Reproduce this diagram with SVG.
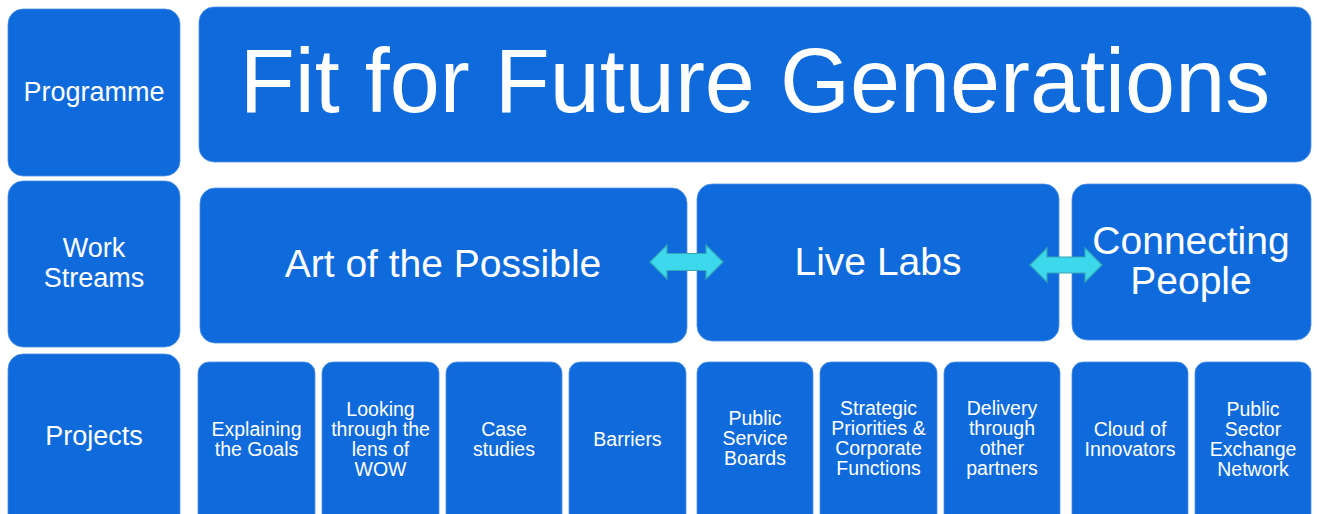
<svg xmlns="http://www.w3.org/2000/svg" width="1317" height="514" viewBox="0 0 1317 514">
  <style>
    .box { fill: #0f6bdc; stroke: #4f8fe4; stroke-width: 0.8; }
    .lbl { fill: #ffffff; font-family: "Liberation Sans", Arial, sans-serif; text-anchor: middle; }
    .row { font-size: 27px; }
    .title { font-size: 90px; }
    .ws { font-size: 39px; }
    .prj { font-size: 19.5px; }
    .arrow { fill: #3dd8eb; stroke: #34a7b6; stroke-width: 1.2; stroke-linejoin: miter; }
  </style>
  <rect width="1317" height="514" fill="#ffffff"/>

  <!-- row headings -->
  <g id="row-programme">
    <rect class="box" x="8" y="9" width="172" height="167" rx="15"/>
    <text class="lbl row" x="94" y="101">Programme</text>
  </g>
  <g id="row-workstreams">
    <rect class="box" x="8" y="181" width="172" height="166" rx="15"/>
    <text class="lbl row" x="94" y="257">Work</text>
    <text class="lbl row" x="94" y="287">Streams</text>
  </g>
  <g id="row-projects">
    <rect class="box" x="8" y="354" width="172" height="180" rx="15"/>
    <text class="lbl row" x="94" y="445">Projects</text>
  </g>

  <!-- programme -->
  <g id="programme">
    <rect class="box" x="199" y="7" width="1112" height="155" rx="15"/>
    <text class="lbl title" x="755" y="112">Fit for Future Generations</text>
  </g>

  <!-- work streams -->
  <g id="ws-art">
    <rect class="box" x="200" y="188" width="487" height="155" rx="15"/>
    <text class="lbl ws" x="443" y="277">Art of the Possible</text>
  </g>
  <g id="ws-livelabs">
    <rect class="box" x="697" y="184" width="362" height="157" rx="15"/>
    <text class="lbl ws" x="878" y="275">Live Labs</text>
  </g>
  <g id="ws-connecting">
    <rect class="box" x="1072" y="184" width="239" height="156" rx="15"/>
    <text class="lbl ws" x="1191" y="254">Connecting</text>
    <text class="lbl ws" x="1191" y="294">People</text>
  </g>

  <!-- projects -->
  <g id="p-explaining">
    <rect class="box" x="198" y="362" width="117" height="170" rx="11"/>
    <text class="lbl prj" x="256.5" y="436">Explaining</text>
    <text class="lbl prj" x="256.5" y="456">the Goals</text>
  </g>
  <g id="p-looking">
    <rect class="box" x="322" y="362" width="117" height="170" rx="11"/>
    <text class="lbl prj" x="380.5" y="416">Looking</text>
    <text class="lbl prj" x="380.5" y="436">through the</text>
    <text class="lbl prj" x="380.5" y="456">lens of</text>
    <text class="lbl prj" x="380.5" y="476">WOW</text>
  </g>
  <g id="p-case">
    <rect class="box" x="446" y="362" width="116" height="170" rx="11"/>
    <text class="lbl prj" x="504" y="436">Case</text>
    <text class="lbl prj" x="504" y="456">studies</text>
  </g>
  <g id="p-barriers">
    <rect class="box" x="569" y="362" width="117" height="170" rx="11"/>
    <text class="lbl prj" x="627.5" y="446">Barriers</text>
  </g>
  <g id="p-psb">
    <rect class="box" x="697" y="362" width="116" height="170" rx="11"/>
    <text class="lbl prj" x="755" y="425">Public</text>
    <text class="lbl prj" x="755" y="445">Service</text>
    <text class="lbl prj" x="755" y="465">Boards</text>
  </g>
  <g id="p-strategic">
    <rect class="box" x="820" y="362" width="117" height="170" rx="11"/>
    <text class="lbl prj" x="878.5" y="415">Strategic</text>
    <text class="lbl prj" x="878.5" y="435">Priorities &amp;</text>
    <text class="lbl prj" x="878.5" y="455">Corporate</text>
    <text class="lbl prj" x="878.5" y="475">Functions</text>
  </g>
  <g id="p-delivery">
    <rect class="box" x="944" y="362" width="116" height="170" rx="11"/>
    <text class="lbl prj" x="1002" y="415">Delivery</text>
    <text class="lbl prj" x="1002" y="435">through</text>
    <text class="lbl prj" x="1002" y="455">other</text>
    <text class="lbl prj" x="1002" y="475">partners</text>
  </g>
  <g id="p-cloud">
    <rect class="box" x="1072" y="362" width="116" height="170" rx="11"/>
    <text class="lbl prj" x="1130" y="436">Cloud of</text>
    <text class="lbl prj" x="1130" y="456">Innovators</text>
  </g>
  <g id="p-psen">
    <rect class="box" x="1195" y="362" width="116" height="170" rx="11"/>
    <text class="lbl prj" x="1253" y="416">Public</text>
    <text class="lbl prj" x="1253" y="436">Sector</text>
    <text class="lbl prj" x="1253" y="456">Exchange</text>
    <text class="lbl prj" x="1253" y="476">Network</text>
  </g>

  <!-- two-way links between work streams -->
  <g id="connectors">
    <path class="arrow" d="M650,262 L667,245 L667,253.5 L706,253.5 L706,245 L723,262 L706,279 L706,270.5 L667,270.5 L667,279 Z"/>
    <path class="arrow" d="M1030,265 L1047,248 L1047,257 L1085,257 L1085,248 L1102,265 L1085,282 L1085,273 L1047,273 L1047,282 Z"/>
  </g>
</svg>
